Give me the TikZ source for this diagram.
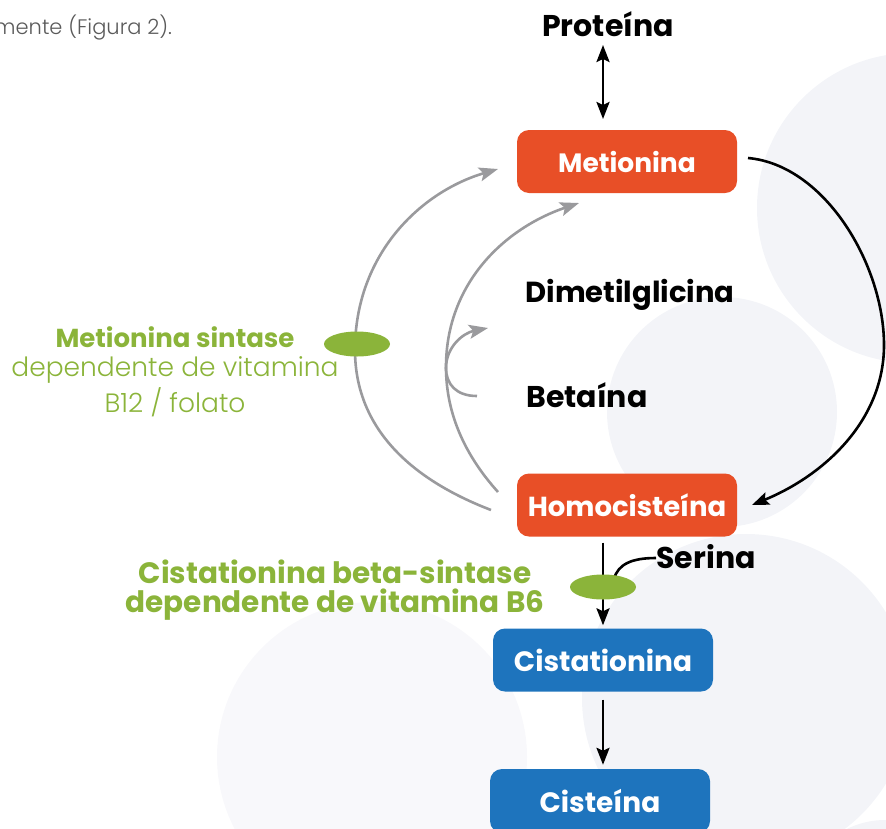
\documentclass[tikz,border=0pt]{standalone}
\usepackage{fontspec}
\setmainfont{Poppins}
\newfontfamily\lightfont{Poppins Light}
\usetikzlibrary{arrows.meta,shapes.geometric}
\definecolor{orng}{HTML}{E84F27}
\definecolor{blu}{HTML}{1E74BD}
\definecolor{grn}{HTML}{8BB43A}
\definecolor{gry}{HTML}{9A9A9D}
\definecolor{bgc}{HTML}{F3F4F8}
\definecolor{txtgray}{HTML}{5A5A5A}
\begin{document}
\begin{tikzpicture}[x=1pt,y=-1pt,
  boxo/.style={fill=orng,rounded corners=12pt,minimum width=220pt,minimum height=63pt,inner sep=0pt,text=white,font=\fontsize{26.5}{30}\selectfont\bfseries},
  boxb/.style={boxo,fill=blu},
  lbl/.style={font=\fontsize{30}{34}\selectfont\bfseries,text=black,inner sep=0pt},
  enz/.style={ellipse,fill=grn,minimum width=66pt,minimum height=25pt,inner sep=0pt},
  gtip/.style={Stealth[length=19pt,width=14pt,inset=4pt]},
  btip/.style={Stealth[length=17pt,width=13pt,inset=3pt]},
  grline/.style={draw=gry,line width=2.6pt,-{Stealth[length=19pt,width=14pt,inset=4pt]}},
  bkline/.style={draw=black,line width=2.6pt,-{Stealth[length=17pt,width=13pt,inset=3pt]}},
  gtxt/.style={text=grn,inner sep=0pt,font=\fontsize{26}{30}\selectfont}
]
\useasboundingbox (0,0) rectangle (886,828);
\clip (0,0) rectangle (886,828);
% background circles
\fill[bgc] (912,208) circle (155);
\fill[bgc] (722,412) circle (115);
\fill[bgc!60!white] (372,757) circle (155);
\fill[bgc] (746,698) circle (164);
\fill[bgc] (885,905) circle (85);
% top text
\node[anchor=west,inner sep=0pt,text=txtgray,font=\lightfont\fontsize{21}{24}\selectfont] (intro) at (-6,28) {mente (Figura 2).};
% nodes
\node[lbl] (prot) at (608,24) {Proteína};
\node[boxo] (met) at (627,161.5) {Metionina};
\node[lbl,font=\fontsize{29}{34}\selectfont\bfseries] (dmg) at (630,295) {Dimetilglicina};
\node[lbl] (bet) at (587,395) {Betaína};
\node[boxo,font=\fontsize{27.5}{30}\selectfont\bfseries] (homo) at (627,505) {Homocisteína};
\node[lbl] (ser) at (706,557) {Serina};
\node[boxb,font=\fontsize{28}{30}\selectfont\bfseries] (cist) at (603,660) {Cistationina};
\node[boxb,minimum height=64pt,font=\fontsize{28}{30}\selectfont\bfseries] (cis) at (600,801) {Cisteína};
\node[gtxt,font=\fontsize{26}{30}\selectfont\bfseries] (ms1) at (175,337) {Metionina sintase};
\node[gtxt,font=\lightfont\fontsize{26.5}{30}\selectfont] (ms2) at (175,370) {dependente de vitamina};
\node[gtxt,font=\lightfont\fontsize{26.5}{30}\selectfont] (ms3) at (175,402) {B12 / folato};
\node[gtxt,font=\fontsize{29.5}{34}\selectfont\bfseries] (cb1) at (335,572) {Cistationina beta-sintase};
\node[gtxt,font=\fontsize{29.5}{34}\selectfont\bfseries] (cb2) at (335,605) {dependente de vitamina B6};
% coordinates
\coordinate (pa) at (603,45);
\coordinate (pb) at (603,119);
\coordinate (o1) at (491,510);
\coordinate (o2) at (498,169);
\coordinate (i1) at (498,492);
\coordinate (i2) at (579,203);
\coordinate (s1) at (477,396);
\coordinate (s2) at (488,328);
\coordinate (m1) at (748,158);
\coordinate (m2) at (752,505);
\coordinate (sr) at (656,558);
% connectors
\draw[draw=black,line width=2.6pt,{Stealth[length=17pt,width=13pt,inset=3pt]}-{Stealth[length=17pt,width=13pt,inset=3pt]}] (pa) -- (pb);
\draw[bkline] (m1) .. controls (825,165) and (884,265) .. (884,345) .. controls (884,420) and (825,475) .. (m2);
\draw[grline] (o1) .. controls (400,475) and (355,420) .. (355,350) .. controls (355,255) and (420,192) .. (o2);
\draw[grline] (i1) .. controls (462,452) and (446,410) .. (446,367) .. controls (446,283) and (505,228) .. (i2);
\draw[grline] (s1) .. controls (456,396) and (446,384) .. (446,368) .. controls (446,347) and (463,333) .. (s2);
\node[enz] (e1) at (357,344) {};
\draw[bkline] ([yshift=-6pt]cist.north |- homo.south) -- ([yshift=3pt]cist.north);
\draw[draw=black,line width=2.6pt] (sr) .. controls (632,558) and (618,564) .. (614,579);
\node[enz] (e2) at (603,587) {};
\draw[bkline] ([yshift=-8pt]cist.south) -- ([yshift=4pt]cist.south |- cis.north);
\end{tikzpicture}
\end{document}
